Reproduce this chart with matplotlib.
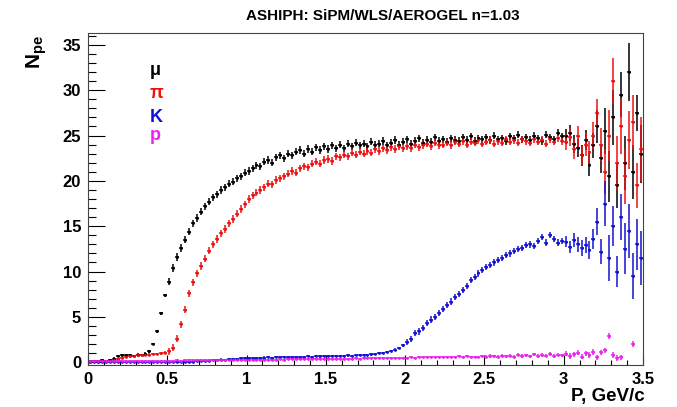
import numpy as np
import matplotlib
matplotlib.use("Agg")
import matplotlib.pyplot as plt
from matplotlib.ticker import MultipleLocator

plt.rcParams['font.family'] = ['Liberation Sans', 'DejaVu Sans']
plt.rcParams['mathtext.fontset'] = 'custom'
plt.rcParams['mathtext.bf'] = 'Liberation Sans:bold'
plt.rcParams['mathtext.rm'] = 'Liberation Sans'

# momentum bins, GeV/c
bin_width = 0.025
n_bins = 140
p = np.arange(n_bins) * bin_width + bin_width / 2

# muons
mu_npe = [
    0.10, 0.15, 0.10, 0.20, 0.15, 0.20, 0.40, 0.70, 0.80, 0.75,
    0.80, 0.70, 0.85, 0.80, 0.95, 1.20, 2.00, 3.40, 5.40, 7.40,
    8.9, 10.4, 11.6, 12.6, 13.5, 14.4, 15.3, 15.9, 16.6, 17.2,
    17.7, 18.2, 18.5, 19.0, 19.3, 19.7, 19.9, 20.3, 20.5, 20.9,
    21.1, 21.4, 21.7, 21.6, 22.1, 22.3, 22.0, 22.6, 22.8, 22.5,
    23.0, 22.8, 23.2, 23.4, 23.0, 23.5, 23.2, 23.7, 23.4, 23.8,
    23.5, 23.9, 23.6, 24.0, 23.6, 24.1, 23.8, 24.2, 23.9, 24.1,
    23.8, 24.3, 24.0, 24.1, 24.4, 23.9, 24.2, 24.5, 24.0, 24.3,
    24.6, 24.1, 24.4, 24.7, 24.2, 24.5, 24.3, 24.8, 24.4, 24.6,
    24.3, 24.7, 24.5, 24.4, 24.8, 24.5, 24.9, 24.4, 24.7, 24.6,
    24.8, 24.5, 25.0, 24.6, 24.7, 24.4, 24.9, 24.7, 25.1, 24.6,
    24.8, 24.5, 25.0, 24.7, 24.4, 25.1, 24.8, 24.6, 25.3, 24.9,
    24.9, 25.3, 24.1, 23.6, 22.8, 24.5, 21.8, 23.9, 26.0, 22.5,
    25.5, 20.5, 27.0, 19.5, 29.5, 22.0, 32.0, 21.0, 27.5, 23.0,
]
mu_err = [0.15] * 20 + [0.4] * 100 + [
    0.8, 0.9, 1.0, 1.0, 1.2, 1.1, 1.3, 1.4, 1.8, 1.6,
    2.5, 2.8, 3.0, 2.5, 2.5, 3.0, 3.2, 3.0, 2.0, 3.2,
]

# pions
pi_npe = [
    0.05, 0.10, 0.05, 0.10, 0.10, 0.15, 0.20, 0.35, 0.50, 0.60,
    0.65, 0.70, 0.75, 0.80, 0.80, 0.85, 0.90, 0.90, 1.00, 1.05,
    1.2, 1.6, 2.6, 4.2, 5.8, 7.6, 8.8, 9.8, 10.6, 11.4,
    12.3, 13.0, 13.6, 14.2, 14.7, 15.3, 15.8, 16.4, 16.9, 17.4,
    18.0, 18.4, 18.7, 19.0, 19.3, 19.7, 19.6, 20.1, 20.3, 20.5,
    20.8, 21.1, 20.9, 21.4, 21.6, 21.5, 21.9, 22.1, 21.9, 22.3,
    22.4, 22.2, 22.7, 22.6, 22.9, 22.7, 23.1, 22.9, 23.2, 23.0,
    23.3, 23.1, 23.5, 23.3, 23.6, 23.4, 23.7, 23.5, 23.8, 23.6,
    23.8, 23.6, 24.0, 23.7, 23.9, 24.1, 23.8, 24.2, 23.9, 24.0,
    24.2, 23.9, 24.3, 24.1, 24.4, 24.0, 24.3, 24.2, 24.5, 24.1,
    24.3, 24.5, 24.1, 24.4, 24.2, 24.6, 24.3, 24.5, 24.2, 24.6,
    24.4, 24.2, 24.6, 24.3, 24.5, 24.1, 24.6, 24.3, 24.7, 24.4,
    24.3, 24.8, 23.5, 24.9, 22.8, 24.0, 23.2, 25.0, 27.5, 24.0,
    21.0, 25.0, 31.0, 22.0, 26.0, 20.5, 24.5, 26.5, 19.5, 23.5,
]
pi_err = [0.15] * 20 + [0.4] * 100 + [
    0.9, 1.0, 1.1, 1.2, 1.0, 1.3, 1.2, 1.5, 1.5, 1.8,
    2.5, 2.8, 2.5, 3.0, 3.0, 3.0, 3.2, 3.0, 2.5, 3.5,
]

# kaons
k_npe = [
    0.05, 0.05, 0.05, 0.05, 0.05, 0.05, 0.05, 0.05, 0.05, 0.05,
    0.05, 0.05, 0.05, 0.05, 0.05, 0.05, 0.05, 0.05, 0.05, 0.05,
    0.05, 0.05, 0.05, 0.05, 0.05, 0.06, 0.08, 0.10, 0.12, 0.15,
    0.18, 0.22, 0.25, 0.30, 0.28, 0.35, 0.40, 0.38, 0.42, 0.45,
    0.45, 0.48, 0.50, 0.47, 0.52, 0.55, 0.50, 0.55, 0.58, 0.55,
    0.58, 0.60, 0.57, 0.62, 0.60, 0.65, 0.62, 0.66, 0.64, 0.68,
    0.66, 0.70, 0.68, 0.72, 0.70, 0.75, 0.73, 0.78, 0.76, 0.80,
    0.82, 0.86, 0.92, 0.98, 1.05, 1.15, 1.25, 1.40, 1.60, 1.85,
    2.2, 2.6, 3.2, 3.4, 3.8, 4.3, 4.7, 5.0, 5.4, 5.9,
    6.3, 6.7, 7.2, 7.5, 8.0, 8.4, 9.1, 9.4, 9.8, 10.2,
    10.5, 10.7, 11.0, 11.3, 11.5, 11.8, 12.0, 12.3, 12.5, 12.6,
    12.9, 13.0, 12.8, 13.4, 13.8, 13.2, 14.0, 13.6, 13.2, 13.4,
    13.3, 12.7, 13.5, 13.0, 12.6, 12.9, 12.4, 13.6, 15.5, 12.2,
    17.5, 11.5, 15.0, 10.0, 16.0, 12.5, 14.5, 9.5, 13.0, 11.5,
]
k_err = [0.12] * 80 + [0.35] * 40 + [
    0.6, 0.7, 0.8, 0.8, 0.9, 0.9, 1.0, 1.1, 1.5, 1.4,
    2.5, 2.5, 2.2, 1.7, 2.5, 2.8, 3.0, 2.5, 2.8, 3.0,
]

# protons
pr_npe = [
    0.15, 0.15, 0.15, 0.15, 0.15, 0.15, 0.15, 0.15, 0.15, 0.15,
    0.15, 0.16, 0.15, 0.17, 0.16, 0.17, 0.18, 0.17, 0.18, 0.18,
    0.19, 0.18, 0.20, 0.19, 0.20, 0.21, 0.20, 0.22, 0.21, 0.22,
    0.22, 0.23, 0.22, 0.24, 0.23, 0.25, 0.24, 0.25, 0.26, 0.25,
    0.27, 0.26, 0.28, 0.27, 0.29, 0.28, 0.30, 0.29, 0.31, 0.30,
    0.31, 0.33, 0.32, 0.34, 0.33, 0.35, 0.34, 0.36, 0.35, 0.37,
    0.36, 0.38, 0.37, 0.40, 0.38, 0.41, 0.39, 0.42, 0.40, 0.43,
    0.42, 0.45, 0.43, 0.46, 0.44, 0.47, 0.45, 0.48, 0.46, 0.49,
    0.52, 0.55, 0.50, 0.58, 0.54, 0.60, 0.56, 0.53, 0.61, 0.57,
    0.55, 0.62, 0.58, 0.64, 0.56, 0.66, 0.60, 0.63, 0.58, 0.68,
    0.62, 0.70, 0.65, 0.60, 0.74, 0.66, 0.72, 0.63, 0.85, 0.68,
    0.75, 0.66, 0.88, 0.70, 0.80, 0.72, 0.92, 0.68, 0.84, 0.78,
    0.95, 0.70, 0.88, 1.05, 0.62, 0.98, 0.80, 1.15, 0.55, 1.10,
    1.30, 2.90, 0.80, 0.45, 0.55, np.nan, np.nan, 2.00, np.nan, np.nan,
]
pr_err = [0.1] * 100 + [0.18] * 20 + [0.3] * 20

series = [
    ('#000000', mu_npe, mu_err),
    ('#ee1111', pi_npe, pi_err),
    ('#1212d2', k_npe, k_err),
    ('#ee22ee', pr_npe, pr_err),
]
labels = ['\u03bc', '\u03c0', 'K', 'p']
label_y = [32.2, 29.6, 27.0, 25.0]

fig = plt.figure(figsize=(6.77, 4.07), dpi=100)
ax = fig.add_axes([88 / 677, 1 - 365 / 407, (643 - 88) / 677, (365 - 33) / 407])

for color, vals, errs in series:
    ax.errorbar(p, vals, yerr=errs, xerr=bin_width / 2, fmt='o', ms=2.0,
                mew=0, color=color, ecolor=color, elinewidth=1.1, capsize=0)

for (color, _, _), lab, ly in zip(series, labels, label_y):
    ax.text(0.39, ly, lab, color=color, fontsize=13, fontweight='bold',
            ha='left', va='center')

ax.set_xlim(0, 3.5)
ax.set_ylim(-0.3, 36.3)
ax.xaxis.set_major_locator(MultipleLocator(0.5))
ax.xaxis.set_minor_locator(MultipleLocator(0.1))
ax.yaxis.set_major_locator(MultipleLocator(5))
ax.yaxis.set_minor_locator(MultipleLocator(1))
ax.xaxis.set_major_formatter(plt.FuncFormatter(lambda v, _: '%g' % v))
ax.tick_params(axis='x', which='major', direction='in', length=7.2, width=0.8,
               labelsize=12, pad=5)
ax.tick_params(axis='x', which='minor', direction='in', length=3.6, width=0.8)
ax.tick_params(axis='y', which='major', direction='in', length=12, width=0.8,
               labelsize=12, pad=5)
ax.tick_params(axis='y', which='minor', direction='in', length=6, width=0.8)
for lab in ax.get_xticklabels() + ax.get_yticklabels():
    lab.set_fontweight('bold')
for sp in ax.spines.values():
    sp.set_linewidth(0.8)
    sp.set_color('#444444')

fig.text(383 / 677, 1 - 16 / 407, 'ASHIPH: SiPM/WLS/AEROGEL n=1.03',
         ha='center', va='center', fontsize=11, fontweight='bold')
fig.text(645 / 677, 1 - 396 / 407, 'P, GeV/c', ha='right', va='center',
         fontsize=13.5, fontweight='bold')
fig.text(37 / 677, 1 - 52 / 407, r'$\mathbf{N}_{\mathbf{pe}}$', rotation=90,
         ha='center', va='center', fontsize=15)

fig.savefig('out.png', dpi=100)
